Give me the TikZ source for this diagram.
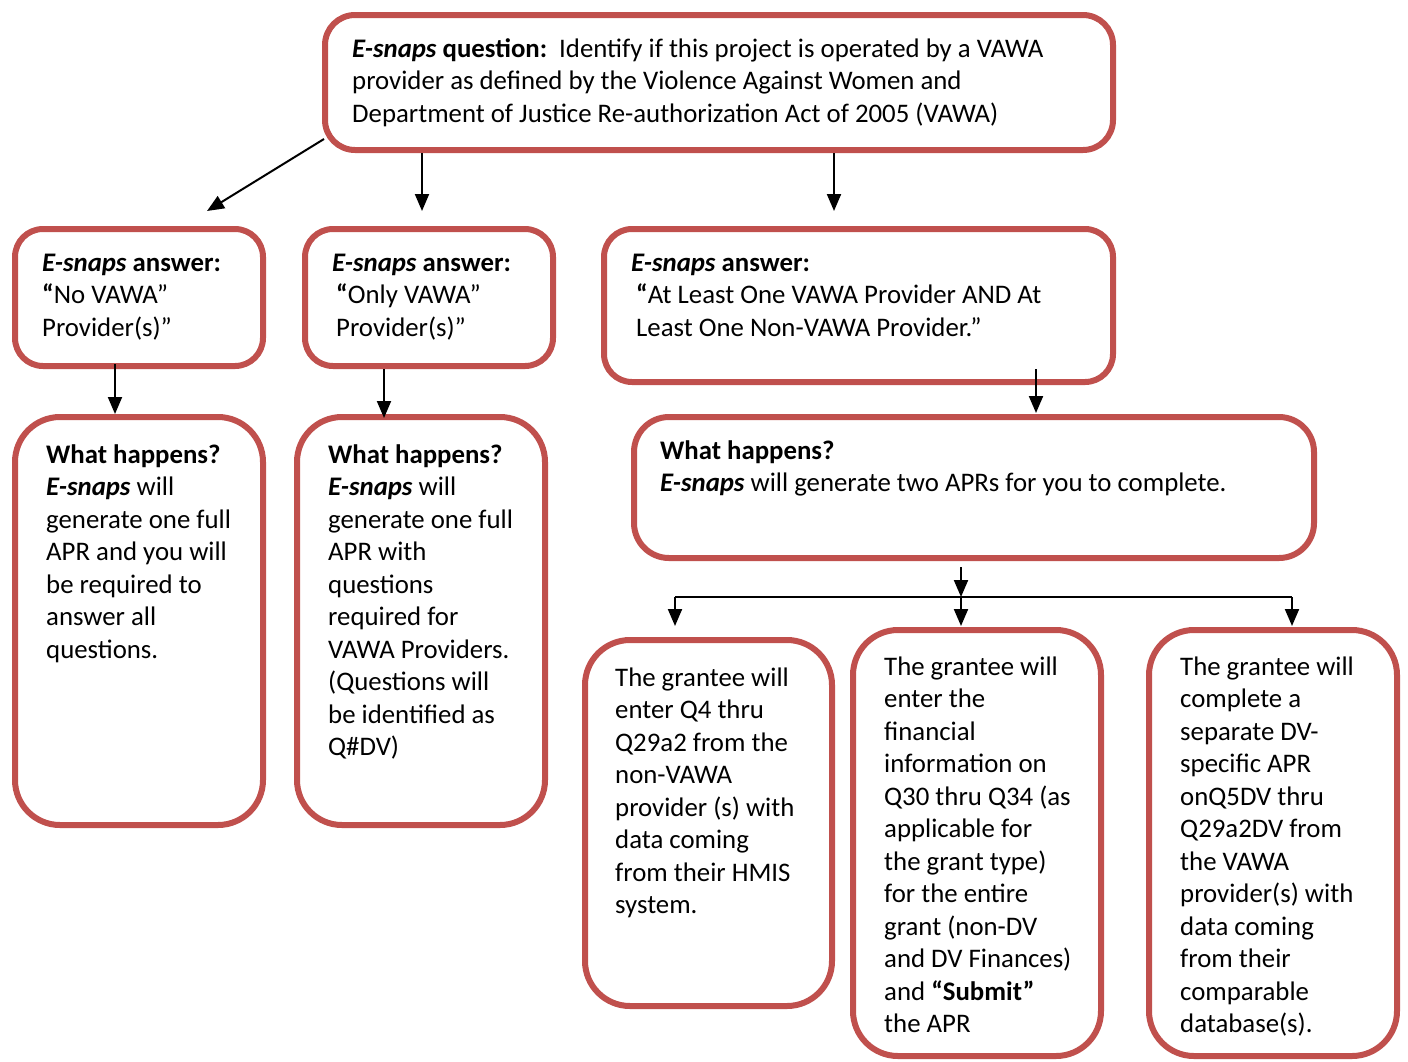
\documentclass[tikz,border=0pt]{standalone}
\usepackage{fontspec}
\setmainfont{Carlito}
\usetikzlibrary{arrows.meta}
\definecolor{boxred}{HTML}{C0504D}
\begin{document}
\begin{tikzpicture}[x=1pt,y=-1pt,
  box/.style={draw=boxred,line width=6pt,fill=white,inner sep=0pt,outer sep=0pt},
  txt/.style={anchor=north west,align=left,inner sep=0pt,font=\fontsize{26.8}{32.5}\selectfont},
  arr/.style={line width=2pt,-{Triangle[length=17pt,width=14pt]}},
  ln/.style={line width=2pt}]
\useasboundingbox (0,0) rectangle (1408,1061);
% boxes
\node[box,rounded corners=30pt,minimum width=788pt,minimum height=135pt] (top) at (719,82.5) {};
\node[box,rounded corners=28pt,minimum width=248pt,minimum height=137pt] (a1) at (139,297.5) {};
\node[box,rounded corners=28pt,minimum width=248pt,minimum height=137pt] (a2) at (429,297.5) {};
\node[box,rounded corners=28pt,minimum width=509pt,minimum height=153pt] (a3) at (858.5,305.5) {};
\node[box,rounded corners=45pt,minimum width=248pt,minimum height=408pt] (w1) at (139,621) {};
\node[box,rounded corners=45pt,minimum width=248pt,minimum height=408pt] (w2) at (421,621) {};
\node[box,rounded corners=35pt,minimum width=680pt,minimum height=141pt] (w3) at (974,487.5) {};
\node[box,rounded corners=45pt,minimum width=247pt,minimum height=366pt] (g1) at (708.5,823) {};
\node[box,rounded corners=45pt,minimum width=248pt,minimum height=426pt] (g2) at (977,843) {};
\node[box,rounded corners=45pt,minimum width=248pt,minimum height=426pt] (g3) at (1273,843) {};
% texts (north = baseline - 22.75)
\node[txt] (ttop) at (352,34.25) {\strut\textbf{\textit{E-snaps} question:}\hspace{0.45em}Identify if this project is operated by a VAWA\\provider as defined by the Violence Against Women and\\Department of Justice Re-authorization Act of 2005 (VAWA)};
\node[txt] (ta1) at (42,248.25) {\strut\textbf{\textit{E-snaps} answer:}\\\textbf{“}No VAWA”\\Provider(s)”};
\node[txt] (ta2) at (332,248.25) {\strut\textbf{\textit{E-snaps} answer:}\\\hspace*{4pt}\textbf{“}Only VAWA”\\\hspace*{4pt}Provider(s)”};
\node[txt] (ta3) at (631,248.25) {\strut\textbf{\textit{E-snaps} answer:}\\\hspace*{5pt}\textbf{“}At Least One VAWA Provider AND At\\\hspace*{5pt}Least One Non-VAWA Provider.”};
\node[txt] (tw1) at (46,440.25) {\strut\textbf{What happens?}\\\textbf{\textit{E-snaps}} will\\generate one full\\APR and you will\\be required to\\answer all\\questions.};
\node[txt] (tw2) at (328,440.25) {\strut\textbf{What happens?}\\\textbf{\textit{E-snaps}} will\\generate one full\\APR with\\questions\\required for\\VAWA Providers.\\(Questions will\\be identified as\\Q\#DV)};
\node[txt] (tw3) at (660,436.25) {\strut\textbf{What happens?}\\\textbf{\textit{E-snaps}} will generate two APRs for you to complete.};
\node[txt] (tg1) at (615,663.25) {\strut The grantee will\\enter Q4 thru\\Q29a2 from the\\non-VAWA\\provider (s) with\\data coming\\from their HMIS\\system.};
\node[txt] (tg2) at (884,652.25) {\strut The grantee will\\enter the\\financial\\information on\\Q30 thru Q34 (as\\applicable for\\the grant type)\\for the entire\\grant (non-DV\\and DV Finances)\\and \textbf{“Submit”}\\the APR};
\node[txt] (tg3) at (1180,652.25) {\strut The grantee will\\complete a\\separate DV-\\specific APR\\onQ5DV thru\\Q29a2DV from\\the VAWA\\provider(s) with\\data coming\\from their\\comparable\\database(s).};
% connector end points
\coordinate (s1) at (324,139);  \coordinate (e1) at (207,211);
\coordinate (s2) at (422,153);  \coordinate (e2) at (422,211);
\coordinate (s3) at (834,153);  \coordinate (e3) at (834,211);
\coordinate (s4) at (115,364);  \coordinate (e4) at (115,414);
\coordinate (s5) at (384,369);  \coordinate (e5) at (384,418);
\coordinate (s6) at (1036,369); \coordinate (e6) at (1036,413);
\coordinate (s7) at (961,567);  \coordinate (j)  at (961,597);
\coordinate (jl) at (675,597);  \coordinate (jr) at (1292,597);
\coordinate (e8) at (675,626);  \coordinate (e9) at (961,626);  \coordinate (e10) at (1292,626);
\draw[arr] (s1) -- (e1);
\draw[arr] (s2) -- (e2);
\draw[arr] (s3) -- (e3);
\draw[arr] (s4) -- (e4);
\draw[arr] (s5) -- (e5);
\draw[arr] (s6) -- (e6);
\draw[arr] (s7) -- (j);
\draw[ln] (jl) -- (jr);
\draw[arr] (jl) -- (e8);
\draw[arr] (j) -- (e9);
\draw[arr] (jr) -- (e10);
\end{tikzpicture}
\end{document}
